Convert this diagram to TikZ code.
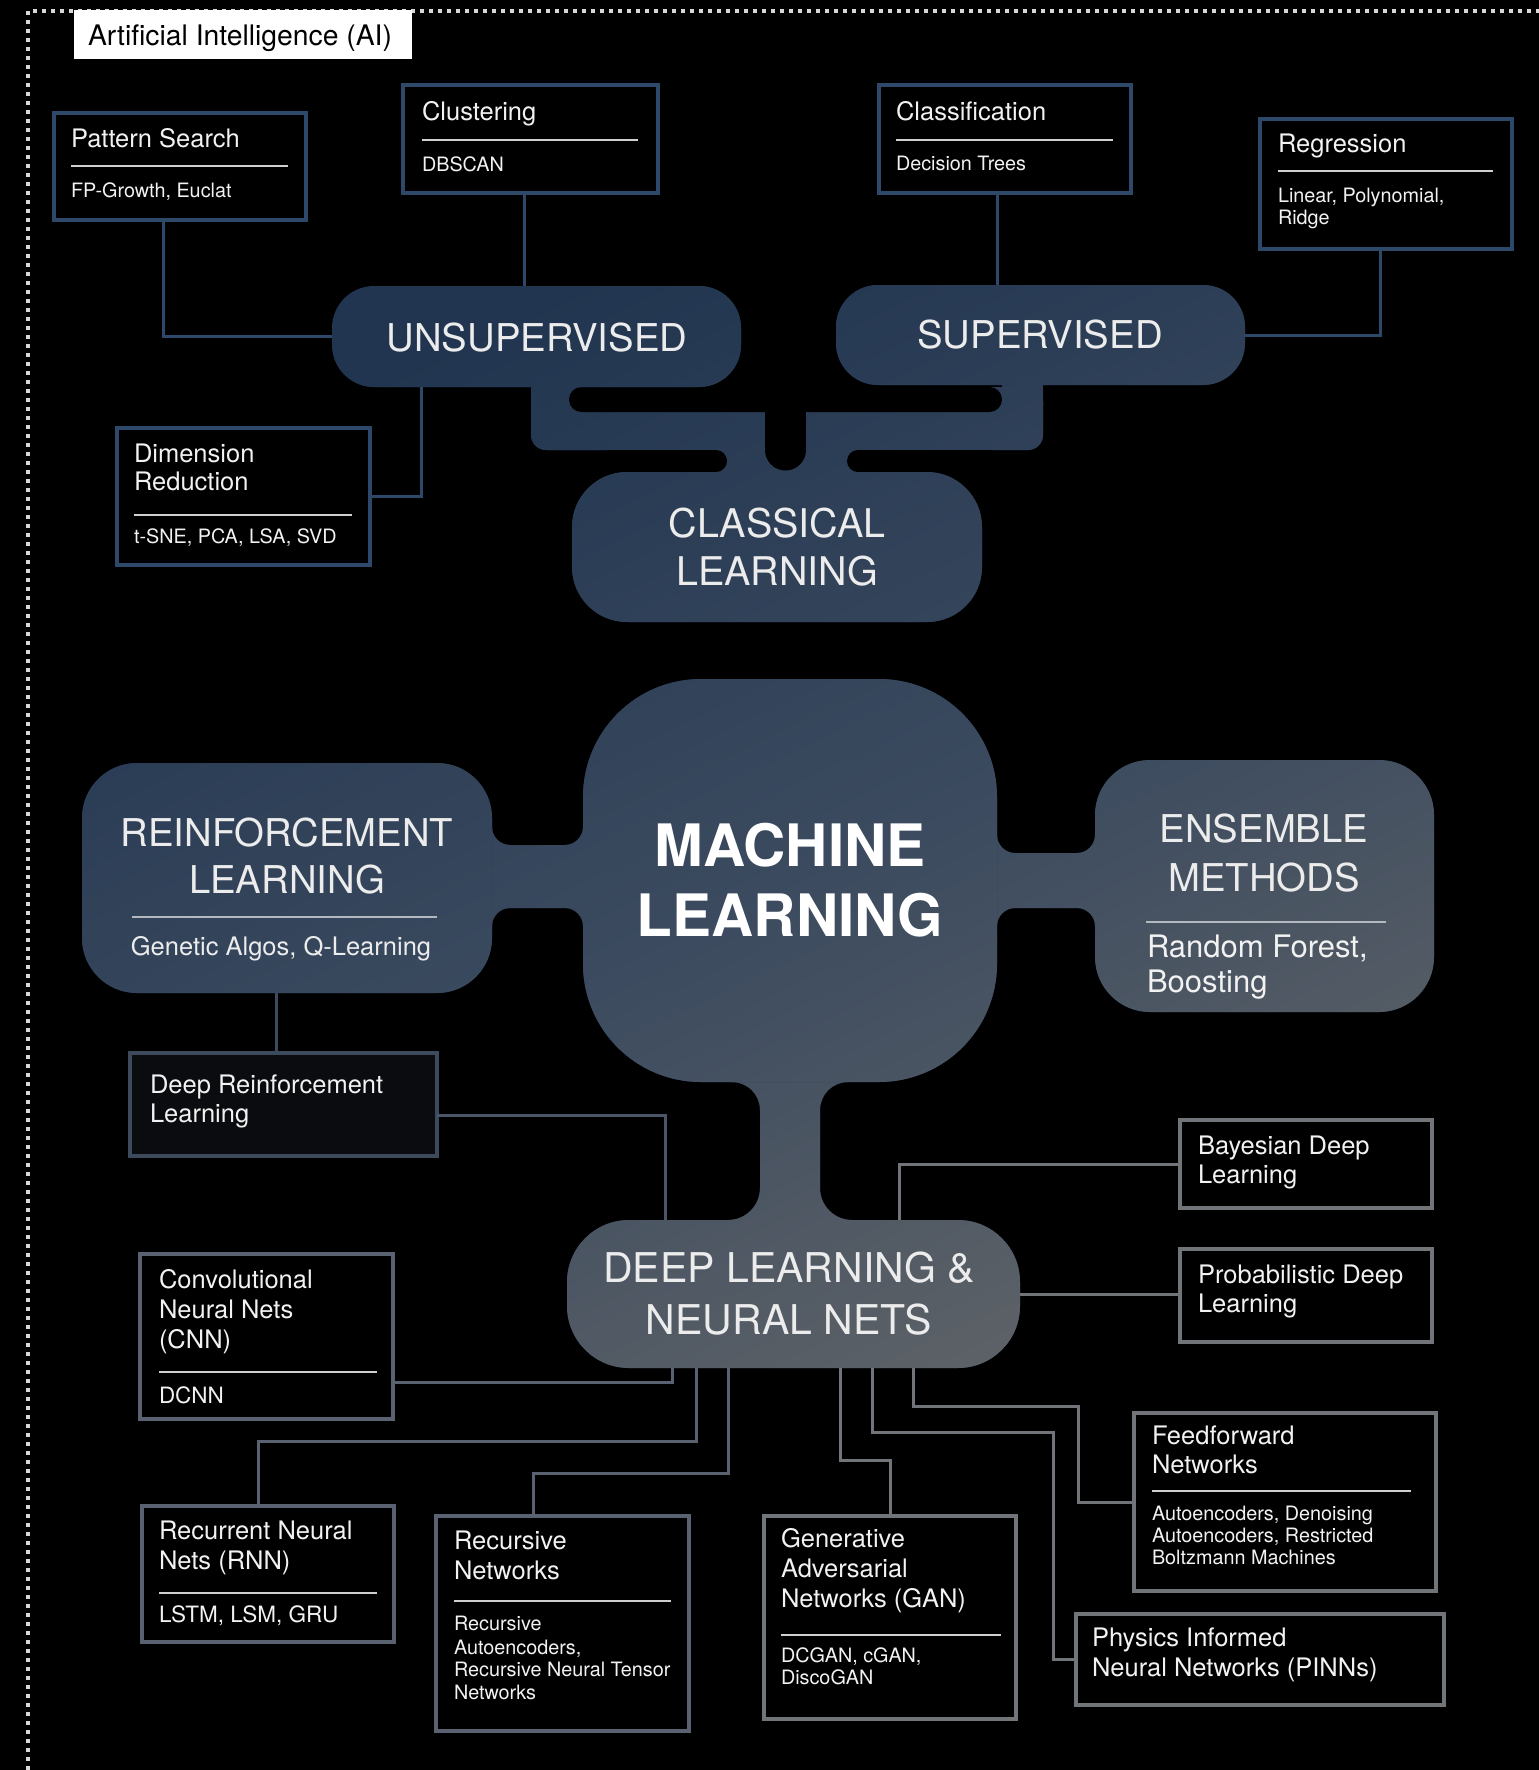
\documentclass[tikz,border=0pt]{standalone}
\usepackage{fontspec}
\setmainfont{TeX Gyre Heros}
\usetikzlibrary{calc}
\definecolor{gtop}{HTML}{213550}
\definecolor{gmid}{HTML}{3C4B5F}
\definecolor{gbot}{HTML}{666869}
\definecolor{navyb}{HTML}{2D4868}
\definecolor{drlb}{HTML}{3D4A5C}
\definecolor{drlc}{HTML}{4A5568}
\definecolor{slateb}{HTML}{5A6271}
\definecolor{grayb}{HTML}{717478}
\definecolor{rulec}{HTML}{CFCFCF}
\definecolor{prulec}{HTML}{B4B9C0}
\definecolor{txt}{HTML}{F2F2F2}
\definecolor{pilltxt}{HTML}{ECECEC}
\definecolor{dotc}{HTML}{D8D8D8}
\definecolor{drlfill}{HTML}{0B0C0F}
\newcommand\gpaint[1]{\fill[gtop] #1;\begin{scope}\clip #1;\shade[overlay, transform canvas={rotate around={25:(758,1025)}}, top color=gtop, bottom color=gbot, middle color=gmid] (-800,275) rectangle (2300,1575);\end{scope}}
\newcommand\fTi{\fontsize{25.5}{30}\selectfont}
\newcommand\fSu{\fontsize{19.8}{23}\selectfont}
\newcommand\fMi{\fontsize{22.5}{26}\selectfont}
\newcommand\fPi{\fontsize{38.3}{46}\selectfont}
\newcommand\fCl{\fontsize{39.5}{47}\selectfont}
\newcommand\fDl{\fontsize{41}{49}\selectfont}
\newcommand\fMl{\fontsize{58.5}{70}\selectfont\bfseries}
\newcommand\fRf{\fontsize{31}{36}\selectfont}
\newcommand\fGa{\fontsize{25.5}{30}\selectfont}
\newcommand\fAi{\fontsize{28.3}{32}\selectfont}
\begin{document}
\begin{tikzpicture}[x=1pt,y=-1pt,
 bx/.style={anchor=north west, inner sep=0pt, outer sep=0pt, fill=black, line width=4pt},
 ph/.style={anchor=north west, inner sep=0pt, outer sep=0pt},
 tl/.style={anchor=base west, inner sep=0pt, outer sep=0pt, text=txt},
 tc/.style={anchor=base, inner sep=0pt, outer sep=0pt, text=pilltxt},
 rule/.style={draw=rulec, line width=2.5pt},
 prule/.style={draw=prulec, line width=2pt},
 conU/.style={draw=navyb, line width=3pt},
 conD/.style={draw=drlb, line width=3pt},
 conD2/.style={draw=drlc, line width=3pt},
 conS/.style={draw=slateb, line width=3pt},
 conG/.style={draw=grayb, line width=3pt}]
\useasboundingbox (0,0) rectangle (1539,1770);
\fill[black] (0,0) rectangle (1539,1770);
% border
\draw[dotc, line width=3.5pt, dash pattern=on 4pt off 5pt] (28,1770) -- (28,11) -- (1539,11);
\node[ph, fill=white, minimum width=338pt, minimum height=49pt] (ai) at (74,10) {};
\node[anchor=base, inner sep=0pt, text=black, font=\fAi] (ait) at (240,45) {Artificial Intelligence (AI)};

% placeholder nodes for pills
\node[ph, minimum width=409pt, minimum height=101pt] (unsup) at (332,286) {};
\node[ph, minimum width=409pt, minimum height=100pt] (sup) at (836,285) {};
\node[ph, minimum width=410pt, minimum height=150pt] (classic) at (572,472) {};
\node[ph, minimum width=414pt, minimum height=403pt] (ml) at (583,679) {};
\node[ph, minimum width=410pt, minimum height=230pt] (rl) at (82,763) {};
\node[ph, minimum width=339pt, minimum height=252pt] (ens) at (1095,760) {};
\node[ph, minimum width=453pt, minimum height=148pt] (dl) at (567,1220) {};

% classical group
\gpaint{[rounded corners=15pt] (531,387) rectangle (1043,450)}
\gpaint{(531,365) rectangle (569,405)}
\gpaint{(1002,365) rectangle (1043,405)}
\gpaint{(700,440) rectangle (870,482)}
\fill[black, rounded corners=12.5pt] (569,387) rectangle (1002,412);
\fill[black] (765,387) rectangle (806,450);
\fill[black] (785.5,450) circle[radius=20.5pt];
\fill[black, rounded corners=11pt] (600,450) rectangle (727,472);
\fill[black, rounded corners=11pt] (847,450) rectangle (1000,472);
\gpaint{[rounded corners=55pt] (classic.north west) rectangle (classic.south east)}
\gpaint{[rounded corners=42pt] (unsup.north west) rectangle (unsup.south east)}
\gpaint{[rounded corners=42pt] (sup.north west) rectangle (sup.south east)}

% machine learning group
\gpaint{(482,827) -- (492,827) .. controls (492,836.9) and (500.1,845) .. (510,845) -- (565,845) .. controls (574.9,845) and (583,836.9) .. (583,827) -- (593,827) -- (593,926) -- (583,926) .. controls (583,916.1) and (574.9,908) .. (565,908) -- (510,908) .. controls (500.1,908) and (492,916.1) .. (492,926) -- (482,926) -- cycle}
\gpaint{(987,835) -- (997,835) .. controls (997,844.9) and (1005.1,853) .. (1015,853) -- (1077,853) .. controls (1086.9,853) and (1095,844.9) .. (1095,835) -- (1105,835) -- (1105,926) -- (1095,926) .. controls (1095,916.1) and (1086.9,908) .. (1077,908) -- (1015,908) .. controls (1005.1,908) and (997,916.1) .. (997,926) -- (987,926) -- cycle}
\gpaint{(732,1072) -- (732,1082) .. controls (747.5,1082) and (760,1094.5) .. (760,1110) -- (760,1188) .. controls (760,1205.7) and (745.7,1220) .. (728,1220) -- (728,1230) -- (852,1230) -- (852,1220) .. controls (834.3,1220) and (820,1205.7) .. (820,1188) -- (820,1110) .. controls (820,1094.5) and (832.5,1082) .. (848,1082) -- (848,1072) -- cycle}
\gpaint{[rounded corners=118pt] (ml.north west) rectangle (ml.south east)}
\gpaint{[rounded corners=55pt] (rl.north west) rectangle (rl.south east)}
\gpaint{[rounded corners=55pt] (ens.north west) rectangle (ens.south east)}
\gpaint{[rounded corners=62pt] (dl.north west) rectangle (dl.south east)}

% boxes
\node[bx, draw=navyb, minimum width=252pt, minimum height=107pt] (ps) at (54,113) {};
\node[bx, draw=navyb, minimum width=255pt, minimum height=108pt] (clu) at (403,85) {};
\node[bx, draw=navyb, minimum width=252pt, minimum height=108pt] (cls) at (879,85) {};
\node[bx, draw=navyb, minimum width=252pt, minimum height=130pt] (reg) at (1260,119) {};
\node[bx, draw=navyb, minimum width=253pt, minimum height=137pt] (dr) at (117,428) {};
\node[bx, draw=drlb, fill=drlfill, minimum width=307pt, minimum height=103pt] (drl) at (130,1053) {};
\node[bx, draw=slateb, minimum width=253pt, minimum height=165pt] (cnn) at (140,1254) {};
\node[bx, draw=slateb, minimum width=252pt, minimum height=136pt] (rnn) at (142,1506) {};
\node[bx, draw=slateb, minimum width=253pt, minimum height=215pt] (rec) at (436,1516) {};
\node[bx, draw=grayb, minimum width=252pt, minimum height=203pt] (gan) at (764,1516) {};
\node[bx, draw=grayb, minimum width=302pt, minimum height=178pt] (ff) at (1134,1413) {};
\node[bx, draw=grayb, minimum width=368pt, minimum height=91pt] (pinn) at (1076,1614) {};
\node[bx, draw=grayb, minimum width=252pt, minimum height=88pt] (bay) at (1180,1120) {};
\node[bx, draw=grayb, minimum width=252pt, minimum height=93pt] (prob) at (1180,1249) {};

% connectors, upper
\coordinate (psB) at ([xshift=109pt]ps.south west);
\draw[conU] (psB) |- (unsup.west);
\coordinate (cluB) at ([xshift=121pt]clu.south west);
\draw[conU] (cluB) -- (cluB |- unsup.north);
\coordinate (unsB) at ([xshift=89pt]unsup.south west);
\draw[conU] (unsB) |- (dr.east);
\coordinate (clsB) at ([xshift=118pt]cls.south west);
\draw[conU] (clsB) -- (clsB |- sup.north);
\coordinate (regB) at ([xshift=120pt]reg.south west);
\draw[conU] (regB) |- (sup.east);

% connectors, lower
\coordinate (rlB) at ([xshift=194pt]rl.south west);
\draw[conD] (rlB) -- (rlB |- drl.north);
\coordinate (drlR) at ([yshift=41pt]drl.south east);
\coordinate (dlT1) at ([xshift=98pt]dl.north west);
\draw[conD2] (drlR) -| (dlT1);
\coordinate (cnnR) at ([yshift=37pt]cnn.south east);
\coordinate (dlB1) at ([xshift=105pt]dl.south west);
\draw[conS] (cnnR) -| (dlB1);
\coordinate (rnnT) at ([xshift=116pt]rnn.north west);
\coordinate (dlB2) at ([xshift=129pt]dl.south west);
\draw[conS] (rnnT) -- ++(0,-65) -| (dlB2);
\coordinate (recT) at ([xshift=97pt]rec.north west);
\coordinate (dlB3) at ([xshift=161pt]dl.south west);
\draw[conS] (recT) -- ++(0,-43) -| (dlB3);
\coordinate (dlB4) at ([xshift=273pt]dl.south west);
\coordinate (ganT) at ([xshift=126pt]gan.north west);
\draw[conG] (dlB4) -- ++(0,92) -| (ganT);
\coordinate (dlB5) at ([xshift=305pt]dl.south west);
\draw[conG] (dlB5) -- ++(0,64) -- ++(181,0) |- (pinn.west);
\coordinate (dlB6) at ([xshift=346pt]dl.south west);
\draw[conG] (dlB6) -- ++(0,38) -- ++(165,0) |- (ff.west);
\coordinate (dlT2) at ([xshift=332pt]dl.north west);
\draw[conG] (dlT2) |- (bay.west);
\draw[conG] (dl.east) -- (dl.east -| prob.west);

% pill texts
\node[tc, font=\fPi] (unsupt) at (537,351) {UNSUPERVISED};
\node[tc, font=\fPi] (supt) at (1040,348) {SUPERVISED};
\node[tc, font=\fCl] (clt1) at (777,537) {CLASSICAL};
\node[tc, font=\fCl] (clt2) at (777,585) {LEARNING};
\node[tc, font=\fPi] (rlt1) at (287,846) {REINFORCEMENT};
\node[tc, font=\fPi] (rlt2) at (287,893) {LEARNING};
\draw[prule] (132,917) -- (437,917);
\node[tc, font=\fGa] (rlt3) at (281,955) {Genetic Algos, Q-Learning};
\node[tc, font=\fPi] (ent1) at (1264,842) {ENSEMBLE};
\node[tc, font=\fPi] (ent2) at (1264,891) {METHODS};
\draw[prule] (1146,922) -- (1386,922);
\node[tl, font=\fRf] (ent3) at (1147,957) {Random Forest,};
\node[tl, font=\fRf] (ent4) at (1147,992) {Boosting};
\node[tc, font=\fMl, text=white] (mlt1) at (790,866) {MACHINE};
\node[tc, font=\fMl, text=white] (mlt2) at (790,936) {LEARNING};
\node[tc, font=\fDl] (dlt1) at (789,1282) {DEEP LEARNING \&};
\node[tc, font=\fDl] (dlt2) at (789,1334) {NEURAL NETS};

% upper box texts
\node[tl, font=\fTi] (ps1) at (71,147) {Pattern Search};
\draw[rule] (71,166) -- (288,166);
\node[tl, font=\fSu] (ps2) at (71,197) {FP-Growth, Euclat};
\node[tl, font=\fTi] (cl1) at (422,120) {Clustering};
\draw[rule] (422,140) -- (638,140);
\node[tl, font=\fSu] (cl2) at (422,171) {DBSCAN};
\node[tl, font=\fTi] (ca1) at (896,120) {Classification};
\draw[rule] (896,140) -- (1113,140);
\node[tl, font=\fSu] (ca2) at (896,170) {Decision Trees};
\node[tl, font=\fTi] (rg1) at (1278,152) {Regression};
\draw[rule] (1278,171) -- (1493,171);
\node[tl, font=\fSu] (rg2) at (1278,202) {Linear, Polynomial,};
\node[tl, font=\fSu] (rg3) at (1278,224) {Ridge};
\node[tl, font=\fTi] (dr1) at (134,462) {Dimension};
\node[tl, font=\fTi] (dr2) at (134,490) {Reduction};
\draw[rule] (134,515) -- (352,515);
\node[tl, font=\fSu] (dr3) at (134,543) {t-SNE, PCA, LSA, SVD};

% lower box texts
\node[tl, font=\fTi] (drl1) at (150,1093) {Deep Reinforcement};
\node[tl, font=\fTi] (drl2) at (150,1122) {Learning};
\node[tl, font=\fTi] (cnn1) at (159,1288) {Convolutional};
\node[tl, font=\fTi] (cnn2) at (159,1318) {Neural Nets};
\node[tl, font=\fTi] (cnn3) at (159,1348) {(CNN)};
\draw[rule] (159,1372) -- (377,1372);
\node[tl, font=\fMi] (cnn4) at (159,1403) {DCNN};
\node[tl, font=\fTi] (rnn1) at (159,1539) {Recurrent Neural};
\node[tl, font=\fTi] (rnn2) at (159,1569) {Nets (RNN)};
\draw[rule] (159,1593) -- (377,1593);
\node[tl, font=\fMi] (rnn3) at (159,1622) {LSTM, LSM, GRU};
\node[tl, font=\fTi] (rec1) at (454,1549) {Recursive};
\node[tl, font=\fTi] (rec2) at (454,1579) {Networks};
\draw[rule] (454,1601) -- (671,1601);
\node[tl, font=\fSu] (rec3) at (454,1630) {Recursive};
\node[tl, font=\fSu] (rec4) at (454,1654) {Autoencoders,};
\node[tl, font=\fSu] (rec5) at (454,1676) {Recursive Neural Tensor};
\node[tl, font=\fSu] (rec6) at (454,1699) {Networks};
\node[tl, font=\fTi] (gan1) at (781,1547) {Generative};
\node[tl, font=\fTi] (gan2) at (781,1577) {Adversarial};
\node[tl, font=\fTi] (gan3) at (781,1607) {Networks (GAN)};
\draw[rule] (781,1635) -- (1001,1635);
\node[tl, font=\fSu] (gan4) at (781,1662) {DCGAN, cGAN,};
\node[tl, font=\fSu] (gan5) at (781,1684) {DiscoGAN};
\node[tl, font=\fTi] (ff1) at (1152,1444) {Feedforward};
\node[tl, font=\fTi] (ff2) at (1152,1473) {Networks};
\draw[rule] (1152,1491) -- (1411,1491);
\node[tl, font=\fSu] (ff3) at (1152,1520) {Autoencoders, Denoising};
\node[tl, font=\fSu] (ff4) at (1152,1542) {Autoencoders, Restricted};
\node[tl, font=\fSu] (ff5) at (1152,1564) {Boltzmann Machines};
\node[tl, font=\fTi] (pin1) at (1092,1646) {Physics Informed};
\node[tl, font=\fTi] (pin2) at (1092,1676) {Neural Networks (PINNs)};
\node[tl, font=\fTi] (bay1) at (1198,1154) {Bayesian Deep};
\node[tl, font=\fTi] (bay2) at (1198,1183) {Learning};
\node[tl, font=\fTi] (pro1) at (1198,1283) {Probabilistic Deep};
\node[tl, font=\fTi] (pro2) at (1198,1312) {Learning};
\end{tikzpicture}
\end{document}
